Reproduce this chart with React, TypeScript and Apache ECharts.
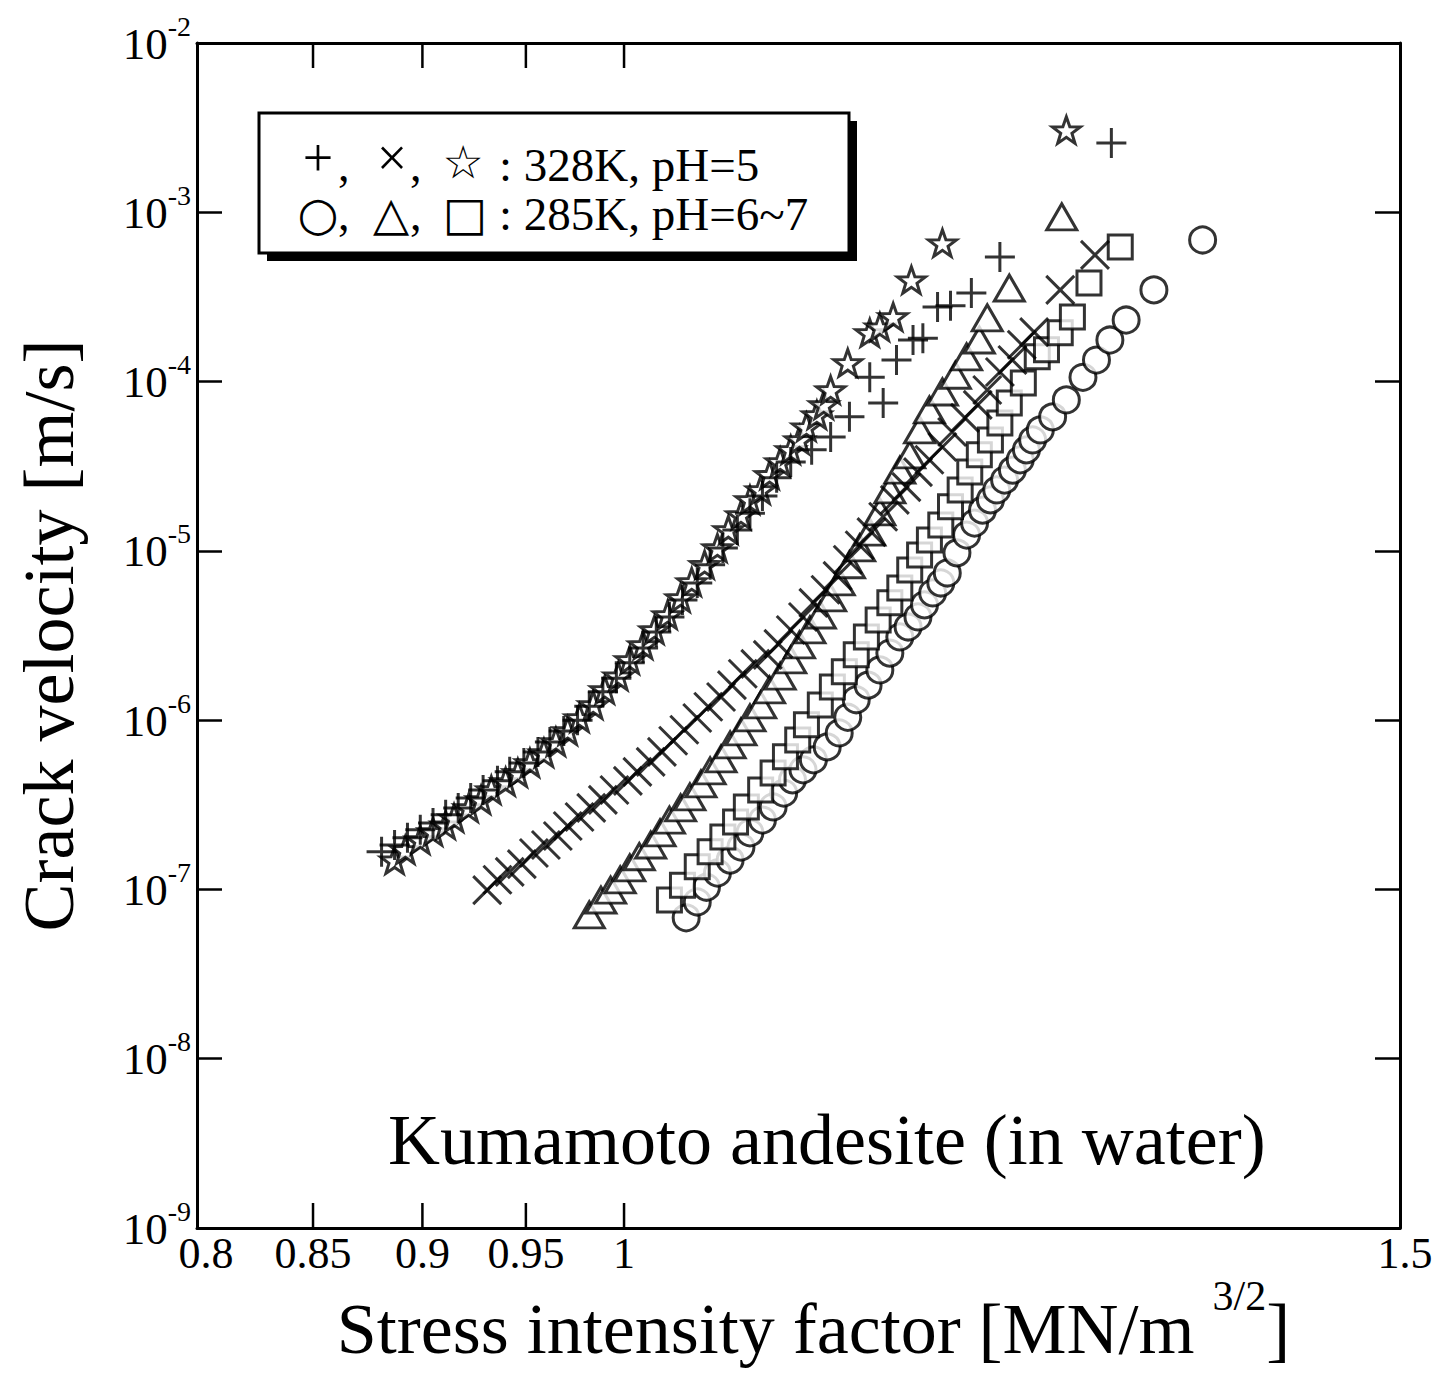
import React, { useEffect, useRef } from 'react';
import * as echarts from 'echarts';

const FONT = '"Liberation Serif", "Times New Roman", serif';
const SYMFONT = '"DejaVu Sans", "Noto Sans", sans-serif';

// x tick marks and labels (stress intensity factor, log scale)
const xTickValues = [0.85, 0.9, 0.95, 1];
const xLabelValues = [0.8, 0.85, 0.9, 0.95, 1, 1.5];
const xLabelTexts = ['0.8', '0.85', '0.9', '0.95', '1', '1.5'];

// legend text, split so each glyph can be placed like the original
const legendSymbols1 = ['+', '×', '☆'];
const legendSymbols2 = ['○', '△', '□'];
const legendRest1 = ': 328K, pH=5';
const legendRest2 = ': 285K, pH=6~7';
const noteText = 'Kumamoto andesite (in water)';

// [K (MN/m^3/2), crack velocity (m/s)]
const plus328 = [
  [0.881, 1.67e-7], [0.887, 1.83e-7], [0.893, 2.02e-7], [0.899, 2.25e-7], [0.905, 2.47e-7],
  [0.911, 2.76e-7], [0.917, 3.03e-7], [0.923, 3.47e-7], [0.929, 3.87e-7], [0.936, 4.38e-7],
  [0.942, 4.95e-7], [0.949, 5.59e-7], [0.956, 6.49e-7], [0.962, 7.44e-7], [0.969, 8.64e-7],
  [0.976, 1.0e-6], [0.982, 1.21e-6], [0.989, 1.47e-6], [0.996, 1.77e-6], [1.003, 2.18e-6],
  [1.010, 2.67e-6], [1.017, 3.32e-6], [1.024, 4.07e-6], [1.031, 5.13e-6], [1.039, 6.46e-6],
  [1.046, 8.28e-6], [1.053, 1.04e-5], [1.061, 1.33e-5], [1.068, 1.67e-5], [1.075, 2.11e-5],
  [1.083, 2.70e-5], [1.091, 3.35e-5], [1.103, 3.95e-5], [1.114, 4.71e-5], [1.125, 6.19e-5],
  [1.137, 1.06e-4], [1.145, 7.48e-5], [1.153, 1.34e-4], [1.163, 1.76e-4], [1.169, 1.80e-4],
  [1.178, 2.76e-4], [1.186, 2.8e-4], [1.199, 3.34e-4], [1.217, 5.44e-4], [1.290, 2.57e-3],
];

const star328 = [
  [0.887, 1.49e-7], [0.892, 1.71e-7], [0.899, 1.96e-7], [0.905, 2.19e-7], [0.911, 2.40e-7],
  [0.915, 2.64e-7], [0.922, 3.03e-7], [0.928, 3.38e-7], [0.933, 3.87e-7], [0.940, 4.32e-7],
  [0.946, 4.88e-7], [0.952, 5.59e-7], [0.959, 6.40e-7], [0.965, 7.44e-7], [0.971, 8.64e-7],
  [0.977, 1.03e-6], [0.984, 1.23e-6], [0.990, 1.51e-6], [0.997, 1.82e-6], [1.003, 2.27e-6],
  [1.010, 2.78e-6], [1.016, 3.41e-6], [1.023, 4.18e-6], [1.030, 5.27e-6], [1.036, 6.55e-6],
  [1.043, 8.28e-6], [1.050, 1.04e-5], [1.056, 1.33e-5], [1.063, 1.63e-5], [1.068, 2.0e-5],
  [1.074, 2.29e-5], [1.079, 2.81e-5], [1.085, 3.35e-5], [1.091, 3.95e-5], [1.096, 4.52e-5],
  [1.100, 5.39e-5], [1.106, 6.35e-5], [1.110, 7.28e-5], [1.114, 8.92e-5], [1.124, 1.29e-4],
  [1.137, 1.94e-4], [1.143, 2.10e-4], [1.151, 2.41e-4], [1.162, 3.98e-4], [1.181, 6.58e-4],
  [1.260, 3.06e-3],
];

const cross328 = [
  [0.931, 9.9e-8], [0.936, 1.14e-7], [0.942, 1.27e-7], [0.948, 1.41e-7], [0.954, 1.64e-7],
  [0.960, 1.83e-7], [0.966, 2.07e-7], [0.971, 2.37e-7], [0.977, 2.68e-7], [0.983, 3.03e-7],
  [0.989, 3.38e-7], [0.995, 3.87e-7], [1.002, 4.38e-7], [1.007, 4.95e-7], [1.014, 5.67e-7],
  [1.020, 6.49e-7], [1.026, 7.55e-7], [1.032, 8.77e-7], [1.039, 1.03e-6], [1.045, 1.20e-6],
  [1.052, 1.37e-6], [1.058, 1.61e-6], [1.064, 1.88e-6], [1.071, 2.15e-6], [1.078, 2.43e-6],
  [1.084, 2.82e-6], [1.091, 3.41e-6], [1.098, 4.07e-6], [1.104, 4.93e-6], [1.111, 5.89e-6],
  [1.118, 7.11e-6], [1.124, 8.86e-6], [1.131, 1.08e-5], [1.138, 1.29e-5], [1.145, 1.59e-5],
  [1.152, 2.0e-5], [1.159, 2.38e-5], [1.166, 2.92e-5], [1.173, 3.45e-5], [1.181, 4.11e-5],
  [1.187, 5.04e-5], [1.195, 6.1e-5], [1.203, 7.28e-5], [1.209, 8.92e-5], [1.217, 1.14e-4],
  [1.225, 1.34e-4], [1.231, 1.65e-4], [1.239, 1.96e-4], [1.256, 3.48e-4], [1.279, 5.6e-4],
];

const tri285 = [
  [0.982, 7.07e-8], [0.988, 8.66e-8], [0.993, 9.9e-8], [0.998, 1.14e-7], [1.003, 1.34e-7],
  [1.008, 1.56e-7], [1.014, 1.83e-7], [1.019, 2.16e-7], [1.024, 2.57e-7], [1.030, 3.03e-7],
  [1.035, 3.52e-7], [1.041, 4.20e-7], [1.046, 5.01e-7], [1.052, 5.91e-7], [1.057, 7.14e-7],
  [1.063, 8.53e-7], [1.068, 1.03e-6], [1.074, 1.23e-6], [1.079, 1.51e-6], [1.085, 1.82e-6],
  [1.091, 2.27e-6], [1.096, 2.78e-6], [1.102, 3.41e-6], [1.108, 4.18e-6], [1.114, 5.27e-6],
  [1.119, 6.55e-6], [1.125, 8.28e-6], [1.131, 1.04e-5], [1.137, 1.29e-5], [1.143, 1.70e-5],
  [1.149, 2.29e-5], [1.155, 3.0e-5], [1.161, 3.69e-5], [1.167, 5.18e-5], [1.173, 6.81e-5],
  [1.181, 8.68e-5], [1.189, 1.09e-4], [1.196, 1.40e-4], [1.204, 1.76e-4], [1.209, 2.38e-4],
  [1.223, 3.57e-4], [1.257, 9.39e-4],
];

const sq285 = [
  [1.024, 8.66e-8], [1.031, 1.06e-7], [1.039, 1.36e-7], [1.046, 1.67e-7], [1.053, 2.04e-7],
  [1.060, 2.50e-7], [1.066, 3.07e-7], [1.074, 3.87e-7], [1.081, 4.88e-7], [1.088, 6.07e-7],
  [1.095, 7.64e-7], [1.100, 9.38e-7], [1.108, 1.23e-6], [1.115, 1.57e-6], [1.122, 1.93e-6],
  [1.129, 2.43e-6], [1.135, 3.10e-6], [1.142, 3.91e-6], [1.149, 4.93e-6], [1.155, 6.04e-6],
  [1.161, 7.72e-6], [1.167, 9.46e-6], [1.173, 1.16e-5], [1.180, 1.42e-5], [1.186, 1.82e-5],
  [1.192, 2.29e-5], [1.198, 2.92e-5], [1.204, 3.69e-5], [1.211, 4.52e-5], [1.217, 5.70e-5],
  [1.223, 7.48e-5], [1.232, 9.81e-5], [1.241, 1.40e-4], [1.247, 1.54e-4], [1.256, 1.94e-4],
  [1.264, 2.41e-4], [1.275, 3.82e-4], [1.296, 6.24e-4],
];

const circ285 = [
  [1.033, 6.8e-8], [1.039, 8.43e-8], [1.044, 1.03e-7], [1.050, 1.25e-7], [1.057, 1.49e-7],
  [1.063, 1.78e-7], [1.068, 2.16e-7], [1.075, 2.57e-7], [1.081, 3.07e-7], [1.087, 3.71e-7],
  [1.092, 4.44e-7], [1.098, 5.09e-7], [1.104, 5.83e-7], [1.112, 6.95e-7], [1.119, 8.40e-7],
  [1.124, 1.04e-6], [1.129, 1.32e-6], [1.136, 1.61e-6], [1.143, 1.98e-6], [1.149, 2.49e-6],
  [1.155, 3.10e-6], [1.160, 3.55e-6], [1.166, 4.07e-6], [1.170, 4.80e-6], [1.175, 5.64e-6],
  [1.180, 6.46e-6], [1.184, 7.40e-6], [1.190, 9.73e-6], [1.196, 1.24e-5], [1.201, 1.46e-5],
  [1.206, 1.74e-5], [1.211, 2.0e-5], [1.215, 2.29e-5], [1.220, 2.62e-5], [1.225, 3.0e-5],
  [1.230, 3.45e-5], [1.234, 3.95e-5], [1.238, 4.52e-5], [1.243, 5.18e-5], [1.251, 6.19e-5],
  [1.260, 7.79e-5], [1.271, 1.06e-4], [1.280, 1.34e-4], [1.289, 1.76e-4], [1.300, 2.31e-4],
  [1.319, 3.48e-4], [1.353, 6.86e-4],
];

const GRID = { left: 197, top: 43, width: 1203, height: 1185 };

const STAR_PATH =
  'path://M0,-10 L2.35,-3.24 L9.51,-3.09 L3.8,1.24 L5.88,8.09 L0,4 L-5.88,8.09 L-3.8,1.24 L-9.51,-3.09 L-2.35,-3.24 Z';
const PLUS_PATH = 'path://M0,5 L10,5 M5,0 L5,10';
const CROSS_PATH = 'path://M0,0 L10,10 M10,0 L0,10';

const openStyle = { color: 'rgba(0,0,0,0)', borderColor: '#000', borderWidth: 3 };
const whiteStyle = { color: '#fff', borderColor: '#000', borderWidth: 3 };

function scatter(name: string, data: number[][], symbol: string, size: any, style: any) {
  return {
    name,
    type: 'scatter',
    data,
    symbol,
    symbolSize: size,
    symbolKeepAspect: true,
    itemStyle: style,
    emphasis: { disabled: true },
    silent: true,
  };
}

function txt(text: string, x: number, y: number, fontSize: number, fontFamily: string, align = 'left') {
  return {
    type: 'text',
    x,
    y,
    style: { text, fontFamily, fontSize, fill: '#000', textAlign: align, textVerticalAlign: 'middle' },
  };
}

export default function App() {
  const ref = useRef<HTMLDivElement>(null);

  useEffect(() => {
    const chart = echarts.init(ref.current!, null, { renderer: 'svg' });
    const axisLine = { show: true, lineStyle: { color: '#000', width: 3 } };
    const yLabelFormatter = (v: number) => {
      const e = Math.round(Math.log10(v));
      return '{b|10}{s|' + e + '}';
    };
    const option: any = {
      animation: false,
      backgroundColor: '#fff',
      grid: { ...GRID },
      xAxis: [
        {
          type: 'log',
          min: 0.8,
          max: 1.5,
          position: 'bottom',
          axisLine,
          axisTick: { show: false },
          axisLabel: { show: false },
          splitLine: { show: false },
          minorTick: { show: false },
          name: '{a|Stress intensity factor [MN/m }{s|3/2}{a|]}',
          nameLocation: 'middle',
          nameGap: 47,
          nameTextStyle: {
            padding: [0, 0, 0, 30],
            rich: {
              a: { fontFamily: FONT, fontSize: 72, color: '#000', verticalAlign: 'bottom' },
              s: { fontFamily: FONT, fontSize: 42, color: '#000', verticalAlign: 'bottom', padding: [0, 0, 48, 0] },
            },
          },
        },
        {
          type: 'log',
          min: 0.8,
          max: 1.5,
          position: 'top',
          axisLine,
          axisTick: { show: false },
          axisLabel: { show: false },
          splitLine: { show: false },
        },
      ],
      yAxis: [
        {
          type: 'log',
          logBase: 10,
          min: 1e-9,
          max: 1e-2,
          splitNumber: 7,
          position: 'left',
          axisLine,
          axisTick: { show: true, inside: true, length: 25, lineStyle: { color: '#000', width: 2.5 } },
          axisLabel: {
            formatter: yLabelFormatter,
            margin: 6,
            padding: [0, 0, 8, 0],
            rich: {
              b: { fontFamily: FONT, fontSize: 45, color: '#000', verticalAlign: 'bottom' },
              s: { fontFamily: FONT, fontSize: 28, color: '#000', verticalAlign: 'bottom', padding: [0, 0, 26, 0] },
            },
          },
          splitLine: { show: false },
          name: 'Crack velocity [m/s]',
          nameLocation: 'middle',
          nameGap: 112,
          nameRotate: 90,
          nameTextStyle: { fontFamily: FONT, fontSize: 72, color: '#000' },
        },
        {
          type: 'log',
          logBase: 10,
          min: 1e-9,
          max: 1e-2,
          splitNumber: 7,
          position: 'right',
          axisLine,
          axisTick: { show: true, inside: true, length: 25, lineStyle: { color: '#000', width: 2.5 } },
          axisLabel: { show: false },
          splitLine: { show: false },
        },
      ],
      series: [
        scatter('○ 285K', circ285, 'circle', 26, whiteStyle),
        scatter('□ 285K', sq285, 'rect', 24, whiteStyle),
        scatter('△ 285K', tri285, 'triangle', [30, 26], whiteStyle),
        scatter('× 328K', cross328, CROSS_PATH, 28, openStyle),
        scatter('☆ 328K', star328, STAR_PATH, 28, whiteStyle),
        scatter('+ 328K', plus328, PLUS_PATH, 30, openStyle),
      ],
    };
    chart.setOption(option);

    const bottom = GRID.top + GRID.height;
    const top = GRID.top;
    const graphics: any[] = [];
    xTickValues.forEach((v) => {
      const px = chart.convertToPixel({ xAxisIndex: 0 }, v) as number;
      graphics.push({
        type: 'line',
        shape: { x1: px, y1: bottom, x2: px, y2: bottom - 25 },
        style: { stroke: '#000', lineWidth: 2.5 },
      });
      graphics.push({
        type: 'line',
        shape: { x1: px, y1: top, x2: px, y2: top + 25 },
        style: { stroke: '#000', lineWidth: 2.5 },
      });
    });
    xLabelValues.forEach((v, i) => {
      const px = chart.convertToPixel({ xAxisIndex: 0 }, v) as number;
      graphics.push({
        type: 'text',
        x: px + (i === 0 ? 9 : i === xLabelValues.length - 1 ? 5 : 0),
        y: bottom + 3,
        style: {
          text: xLabelTexts[i],
          fontFamily: FONT,
          fontSize: 44,
          fill: '#000',
          textAlign: 'center',
          textVerticalAlign: 'top',
        },
      });
    });
    // legend box with drop shadow
    graphics.push({
      type: 'rect',
      shape: { x: 267, y: 121, width: 590, height: 140 },
      style: { fill: '#000' },
    });
    graphics.push({
      type: 'rect',
      shape: { x: 259, y: 113, width: 590, height: 140 },
      style: { fill: '#fff', stroke: '#000', lineWidth: 3 },
    });
    // legend line 1
    graphics.push(txt(legendSymbols1[0], 318, 158, 54, FONT, 'center'));
    graphics.push(txt(',', 338, 165, 46, FONT));
    graphics.push(txt(legendSymbols1[1], 392, 158, 54, FONT, 'center'));
    graphics.push(txt(',', 410, 165, 46, FONT));
    graphics.push(txt(legendSymbols1[2], 463, 162, 46, SYMFONT, 'center'));
    graphics.push(txt(legendRest1, 499, 165, 47, FONT));
    // legend line 2
    graphics.push(txt(legendSymbols2[0], 318, 213, 47, SYMFONT, 'center'));
    graphics.push(txt(',', 338, 214, 46, FONT));
    graphics.push(txt(legendSymbols2[1], 391, 213, 47, SYMFONT, 'center'));
    graphics.push(txt(',', 410, 214, 46, FONT));
    graphics.push(txt(legendSymbols2[2], 465, 213, 47, SYMFONT, 'center'));
    graphics.push(txt(legendRest2, 499, 214, 47, FONT));
    // annotation
    graphics.push(txt(noteText, 388, 1140, 72, FONT));
    chart.setOption({ graphic: graphics });

    return () => chart.dispose();
  }, []);

  return (
    <div
      ref={ref}
      style={{ position: 'absolute', left: 0, top: 0, width: 1436, height: 1374, background: '#fff' }}
    />
  );
}
